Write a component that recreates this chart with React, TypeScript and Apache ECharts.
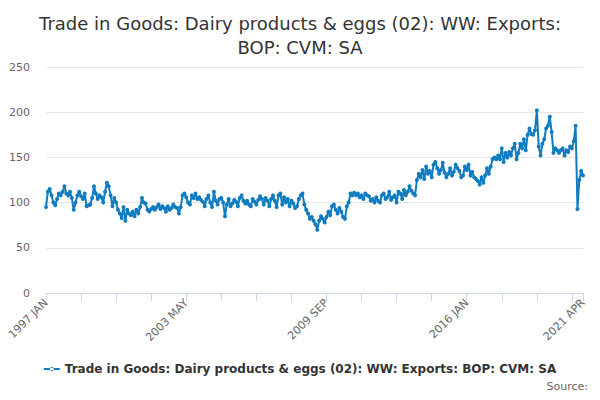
import { useEffect, useRef } from 'react'
import * as echarts from 'echarts'

const MONTHS = ['JAN', 'FEB', 'MAR', 'APR', 'MAY', 'JUN', 'JUL', 'AUG', 'SEP', 'OCT', 'NOV', 'DEC']
const START_YEAR = 1997

const values: number[] = [
  // 1997
  95, 112, 115, 108, 100, 97, 104, 110, 108, 112, 118, 110,
  // 1998
  108, 112, 105, 92, 100, 108, 112, 107, 104, 110, 96, 97,
  // 1999
  98, 105, 118, 110, 104, 108, 106, 100, 112, 122, 118, 108,
  // 2000
  96, 105, 100, 92, 88, 83, 95, 80, 92, 88, 86, 90,
  // 2001
  85, 92, 88, 95, 105, 100, 99, 92, 90, 93, 95, 92,
  // 2002
  95, 98, 93, 96, 94, 90, 96, 92, 94, 98, 95, 94,
  // 2003
  88, 95, 108, 110, 106, 100, 98, 108, 105, 110, 104, 106,
  // 2004
  103, 101, 96, 104, 108, 100, 95, 112, 102, 98, 104, 105,
  // 2005
  100, 85, 98, 104, 96, 99, 103, 101, 96, 105, 108, 102,
  // 2006
  99, 102, 98, 96, 104, 101, 98, 103, 107, 104, 98, 105,
  // 2007
  102, 96, 104, 108, 102, 95, 108, 110, 98, 106, 100, 104,
  // 2008
  96, 102, 99, 94, 96, 104, 108, 110, 98, 92, 88, 82,
  // 2009
  84, 80, 76, 70, 80, 85, 82, 78, 84, 90, 86, 96,
  // 2010
  98, 92, 88, 94, 90, 84, 82, 96, 100, 110, 108, 111,
  // 2011
  108, 110, 106, 108, 104, 110, 108, 107, 102, 104, 100, 106,
  // 2012
  102, 100, 108, 110, 104, 106, 112, 103, 106, 108, 100, 112,
  // 2013
  110, 104, 114, 108, 112, 118, 113, 110, 108, 125, 132, 128,
  // 2014
  136, 126, 140, 132, 135, 128, 142, 145, 138, 132, 136, 144,
  // 2015
  133, 128, 132, 138, 130, 134, 142, 138, 135, 128, 130, 140,
  // 2016
  136, 142, 130, 134, 128, 126, 124, 120, 128, 122, 130, 138,
  // 2017
  132, 140, 148, 150, 148, 152, 148, 160, 145, 155, 150, 156,
  // 2018
  152, 160, 165, 148, 155, 165, 160, 170, 158, 175, 182, 176,
  // 2019
  175, 180, 202, 162, 152, 165, 170, 182, 185, 195, 178, 155,
  // 2020
  160, 158, 155, 158, 160, 152, 158, 156, 162, 160, 168, 185,
  // 2021
  93, 125, 135, 130,
]

const categories = values.map((_, i) => `${START_YEAR + Math.floor(i / 12)} ${MONTHS[i % 12]}`)

const TITLE = 'Trade in Goods: Dairy products & eggs (02): WW: Exports:\nBOP: CVM: SA'
const SERIES_NAME = 'Trade in Goods: Dairy products & eggs (02): WW: Exports: BOP: CVM: SA'
const FONT = '"DejaVu Sans", sans-serif'

export default function App() {
  const ref = useRef<HTMLDivElement>(null)

  useEffect(() => {
    if (!ref.current) return
    const chart = echarts.init(ref.current, null, { renderer: 'svg' })
    const last = values.length - 1

    chart.setOption({
      animation: false,
      textStyle: { fontFamily: FONT },
      title: {
        text: TITLE,
        left: 'center',
        top: 6,
        textStyle: { fontSize: 18, fontWeight: 'normal', color: '#333', lineHeight: 24, fontFamily: FONT },
      },
      grid: { left: 46, right: 17, top: 67, bottom: 107, containLabel: false },
      legend: {
        bottom: 20,
        left: 'center',
        icon: 'path://M0,4 L16,4 L16,6 L0,6 Z M6,5 A2,2 0 1,0 10,5 A2,2 0 1,0 6,5 Z',
        itemWidth: 16,
        itemHeight: 6,
        itemGap: 4,
        textStyle: { fontSize: 12, fontWeight: 'bold', color: '#333' },
        data: [SERIES_NAME],
      },
      graphic: [
        {
          type: 'text',
          right: 12,
          bottom: 8,
          style: { text: 'Source:', fill: '#666', fontSize: 11, fontFamily: FONT },
        },
      ],
      xAxis: {
        type: 'category',
        data: categories,
        boundaryGap: false,
        axisLine: { lineStyle: { color: '#ccd6eb' } },
        axisTick: {
          length: 8,
          lineStyle: { color: '#ccd6eb' },
          interval: (i: number) => i % 19 === 0 || i === last,
        },
        axisLabel: {
          interval: (i: number) => i % 76 === 0 || i === last,
          rotate: 45,
          color: '#666',
          fontSize: 11,
          margin: 8,
        },
        splitLine: { show: false },
      },
      yAxis: {
        type: 'value',
        min: 0,
        max: 250,
        interval: 50,
        axisLabel: { color: '#666', fontSize: 11, margin: 16 },
        splitLine: { lineStyle: { color: '#e6e6e6' } },
        axisLine: { show: false },
        axisTick: { show: false },
      },
      series: [
        {
          name: SERIES_NAME,
          type: 'line',
          data: values,
          color: '#0f7cc0',
          symbol: 'circle',
          symbolSize: 4,
          showAllSymbol: true,
          lineStyle: { width: 2, color: '#0f7cc0' },
        },
      ],
    })

    return () => chart.dispose()
  }, [])

  return <div ref={ref} style={{ width: 600, height: 400, margin: -8 }} />
}
